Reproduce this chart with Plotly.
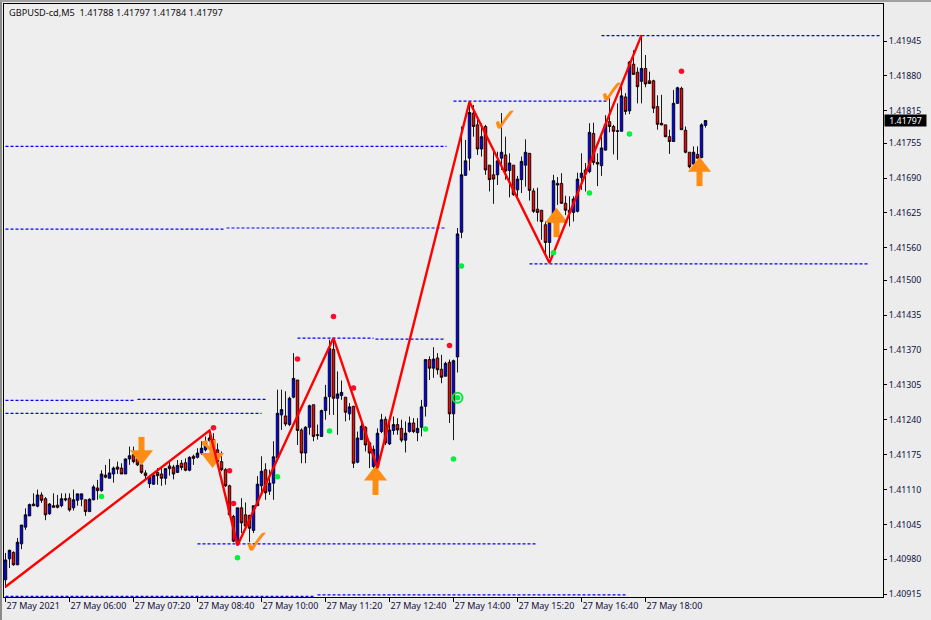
import plotly.graph_objects as go

# Prices are stored as points above 1.40000 (1 point = 0.00001)
BASE = 1.40
POINT = 1e-5

opens_pts = [
 942,981,993,970,1009,1040,1061,1083,1079,1100,1093,1065,1080,1081,1080,1093,
 1094,1076,1090,1092,1091,1069,1091,1113,1108,1137,1131,1139,1152,1150,1139,1167,
 1175,1167,1156,1141,1121,1120,1142,1139,1131,1154,1152,1142,1159,1160,1146,1172,
 1170,1178,1184,1201,1203,1184,1162,1147,1117,1060,1011,1076,1063,1062,1034,1080,
 1117,1147,1107,1122,1169,1249,1247,1231,1282,1314,1221,1178,1226,1268,1212,1209,
 1257,1283,1371,1280,1285,1282,1251,1265,1161,1203,1226,1197,1153,1153,1218,1241,
 1195,1220,1231,1224,1202,1218,1234,1216,1226,1265,1352,1336,1355,1334,1321,1347,
 1251,1357,1589,1695,1727,1811,1789,1744,1786,1714,1696,1696,1727,1733,1704,1714,
 1668,1687,1714,1736,1666,1632,1630,1603,1570,1609,1680,1680,1643,1630,1626,1628,
 1691,1705,1702,1773,1719,1713,1742,1795,1786,1778,1777,1841,1815,1902,1887,1870,
 1894,1871,1871,1823,1792,1789,1767,1758,1829,1857,1779,1738,1716,1734,1728,1788]
closes_pts = [
 979,997,970,1012,1044,1063,1082,1080,1100,1090,1063,1083,1077,1077,1093,1091,
 1072,1091,1102,1102,1069,1092,1115,1108,1139,1133,1141,1150,1148,1139,1167,1173,
 1162,1156,1142,1136,1133,1137,1136,1131,1149,1149,1139,1155,1151,1146,1170,1168,
 1178,1187,1199,1206,1178,1162,1147,1117,1063,1014,1076,1048,1042,1038,1080,1120,
 1144,1104,1122,1171,1252,1259,1232,1280,1317,1220,1178,1226,1266,1209,1211,1257,
 1282,1373,1280,1288,1291,1254,1264,1159,1206,1228,1193,1178,1185,1215,1240,1197,
 1221,1231,1221,1202,1215,1234,1218,1224,1264,1352,1336,1353,1333,1319,1345,1251,
 1350,1586,1696,1722,1812,1786,1744,1767,1705,1687,1688,1722,1738,1703,1718,1659,
 1688,1721,1738,1667,1628,1626,1609,1570,1609,1685,1677,1643,1630,1626,1651,1688,
 1699,1698,1775,1719,1716,1746,1790,1786,1777,1777,1843,1814,1906,1883,1860,1894,
 1865,1866,1820,1790,1789,1767,1758,1829,1858,1780,1738,1711,1738,1727,1789,1797]
highs_pts = [
 992,998,995,1020,1044,1075,1084,1103,1110,1105,1096,1085,1103,1100,1103,1103,
 1103,1110,1102,1102,1091,1094,1119,1128,1146,1156,1167,1153,1162,1159,1168,1190,
 1190,1172,1159,1146,1137,1139,1150,1150,1150,1162,1156,1165,1165,1168,1172,1175,
 1187,1200,1209,1212,1215,1196,1181,1150,1119,1063,1076,1094,1086,1063,1080,1135,
 1172,1159,1147,1200,1296,1296,1293,1283,1364,1314,1224,1228,1268,1268,1231,1259,
 1305,1389,1389,1330,1313,1282,1271,1266,1218,1239,1228,1200,1192,1224,1251,1246,
 1243,1246,1243,1240,1237,1246,1243,1243,1277,1352,1358,1375,1364,1361,1348,1352,
 1352,1597,1786,1761,1832,1826,1798,1792,1789,1714,1745,1739,1811,1767,1736,1714,
 1694,1730,1762,1736,1671,1672,1630,1609,1612,1696,1692,1699,1657,1656,1656,1700,
 1736,1718,1792,1793,1736,1767,1807,1840,1789,1829,1860,1848,1908,1928,1896,1956,
 1919,1888,1873,1844,1845,1789,1780,1854,1860,1860,1786,1738,1749,1749,1792,1797]
lows_pts = [
 927,964,968,969,999,1035,1061,1079,1077,1085,1053,1063,1077,1075,1077,1088,
 1069,1071,1080,1079,1061,1069,1090,1091,1106,1131,1131,1123,1139,1139,1139,1156,
 1159,1154,1139,1128,1113,1119,1119,1117,1119,1136,1129,1141,1146,1144,1144,1156,
 1168,1175,1181,1199,1172,1156,1144,1115,1061,1012,1007,1029,1040,1012,1029,1080,
 1102,1091,1100,1091,1169,1221,1228,1228,1280,1193,1159,1159,1212,1200,1203,1208,
 1240,1249,1249,1212,1277,1237,1239,1150,1159,1203,1181,1150,1150,1150,1215,1193,
 1193,1212,1212,1198,1179,1216,1215,1200,1209,1246,1314,1318,1324,1308,1321,1234,
 1202,1328,1578,1694,1704,1767,1733,1730,1696,1665,1642,1677,1705,1687,1654,1657,
 1649,1662,1674,1648,1625,1609,1575,1547,1541,1606,1640,1642,1621,1600,1609,1626,
 1668,1665,1699,1714,1675,1694,1741,1775,1734,1724,1777,1808,1809,1882,1829,1829,
 1859,1865,1811,1780,1788,1766,1735,1757,1828,1780,1736,1708,1715,1726,1727,1784]

# Zigzag: (bar index, points)
zig_bars = [0, 51, 58, 82, 93, 116, 136, 159]
zig_pts = [929, 1220, 1006, 1392, 1150, 1832, 1532, 1956]

# Horizontal levels: (first bar, last bar, points)
levels = [
 (0, 110.25, 1749), (0, 55, 1595), (55.25, 110, 1597), (0, 32.5, 1276), (33, 65, 1278),
 (0, 64, 1252), (73, 92, 1392), (92.5, 109.5, 1390), (112, 150.5, 1833), (149, 219, 1955),
 (131, 216, 1530), (48, 133, 1009), (0, 77.5, 911), (78, 155, 914),
]

red_bars = [52, 56, 57, 73, 82, 87, 111, 169]
red_pts = [1225, 1145, 1084, 1353, 1432, 1299, 1378, 1889]
green_bars = [24, 58, 68, 81, 105, 112, 113, 114, 137, 146, 156]
green_pts = [1097, 983, 1134, 1219, 1223, 1167, 1281, 1526, 1551, 1662, 1772]
ring_bars = [113]
ring_pts = [1281]

# Arrows: bar index, head centre and tail price (points)
down_arrow_bars = [34, 51.75]
down_arrow_heads = [1174, 1169]
down_arrow_tails = [1208, 1203]
up_arrow_bars = [92.5, 137.75, 173.5]
up_arrow_heads = [1136, 1616, 1711]
up_arrow_tails = [1100, 1580, 1675]
check_bars = [63, 125, 151.75]
check_pts = [1013, 1798, 1850]
turned_check_bars = [50.5]
turned_check_pts = [1190]

time_ticks = [0, 16, 32, 48, 64, 80, 96, 112, 128, 144, 160]
time_labels = ["27 May 2021", "27 May 06:00", "27 May 07:20", "27 May 08:40", "27 May 10:00",
               "27 May 11:20", "27 May 12:40", "27 May 14:00", "27 May 15:20", "27 May 16:40",
               "27 May 18:00"]
price_labels = ["1.41945", "1.41880", "1.41815", "1.41755", "1.41690", "1.41625", "1.41560",
                "1.41500", "1.41435", "1.41370", "1.41305", "1.41240", "1.41175", "1.41110",
                "1.41045", "1.40980", "1.40915"]

TITLE = "GBPUSD-cd,M5\u00a0\u00a01.41788 1.41797 1.41784 1.41797"
LAST_PRICE = "1.41797"


def price(values):
    return [round(BASE + v * POINT, 5) for v in values]


FONT = "Noto Sans"
ORANGE = "#ff8c14"
bars = list(range(len(opens_pts)))

fig = go.Figure()
fig.add_trace(go.Candlestick(
    x=bars, open=price(opens_pts), high=price(highs_pts), low=price(lows_pts), close=price(closes_pts),
    increasing=dict(line=dict(color="black", width=0.9), fillcolor="#0000ff"),
    decreasing=dict(line=dict(color="black", width=0.9), fillcolor="#ff0000"),
    whiskerwidth=0, hoverinfo="skip", showlegend=False,
))
for a, b, v in levels:
    fig.add_trace(go.Scatter(x=[a, b], y=price([v, v]), mode="lines", showlegend=False, hoverinfo="skip",
                             line=dict(color="#0000ff", width=1.2, dash="3px,2px")))

# Orange arrows: a thick shaft plus a triangular head
for arrow_bars, heads, tails, symbol in [(down_arrow_bars, down_arrow_heads, down_arrow_tails, "triangle-down"),
                                         (up_arrow_bars, up_arrow_heads, up_arrow_tails, "triangle-up")]:
    for b, head, tail in zip(arrow_bars, heads, tails):
        fig.add_trace(go.Scatter(x=[b, b], y=price([head, tail]), mode="lines",
                                 showlegend=False, hoverinfo="skip", line=dict(color=ORANGE, width=6)))
    fig.add_trace(go.Scatter(x=arrow_bars, y=price(heads), mode="markers", showlegend=False, hoverinfo="skip",
                             marker=dict(symbol=symbol, size=20, color=ORANGE, line=dict(width=0))))

fig.add_trace(go.Scatter(x=zig_bars, y=price(zig_pts), mode="lines", showlegend=False, hoverinfo="skip",
                         line=dict(color="#ff0000", width=2.4)))
fig.add_trace(go.Scatter(x=red_bars, y=price(red_pts), mode="markers", showlegend=False, hoverinfo="skip",
                         marker=dict(color="#ff0a28", size=5.5)))
fig.add_trace(go.Scatter(x=green_bars, y=price(green_pts), mode="markers", showlegend=False, hoverinfo="skip",
                         marker=dict(color="#00f03c", size=5.5)))
fig.add_trace(go.Scatter(x=ring_bars, y=price(ring_pts), mode="markers", showlegend=False, hoverinfo="skip",
                         marker=dict(color="rgba(0,0,0,0)", size=10, line=dict(color="#00e83c", width=2))))

annotations = []
for b, v in zip(check_bars, check_pts):
    annotations.append(dict(x=b, y=round(BASE + v * POINT, 5), xref="x", yref="y", text="\u2713", showarrow=False,
                            font=dict(family="DejaVu Sans", size=34, color=ORANGE)))
for b, v in zip(turned_check_bars, turned_check_pts):
    annotations.append(dict(x=b, y=round(BASE + v * POINT, 5), xref="x", yref="y", text="\u2714", showarrow=False,
                            textangle=90, font=dict(family="DejaVu Sans", size=20, color=ORANGE)))
annotations.append(dict(x=0, y=1, xref="paper", yref="paper", xanchor="left", yanchor="middle",
                        xshift=3, yshift=-8, text=TITLE, showarrow=False,
                        font=dict(family=FONT, size=9.2, color="#101010")))
annotations.append(dict(x=1, y=float(LAST_PRICE), xref="paper", yref="y", xanchor="left", yanchor="middle",
                        xshift=1, text=LAST_PRICE, showarrow=False, width=41, height=11, bgcolor="#000000",
                        borderpad=0, font=dict(family=FONT, size=8.8, color="#ffffff")))

fig.update_layout(
    width=931, height=620, margin=dict(l=4, r=48, t=4, b=23, autoexpand=False),
    paper_bgcolor="#ececec", plot_bgcolor="#eeeeee",
    boxgap=0.38, boxgroupgap=0, showlegend=False, annotations=annotations,
    xaxis=dict(type="linear", range=[-0.375, 219.375], rangeslider=dict(visible=False), showgrid=False,
               zeroline=False, showline=True, mirror=True, linecolor="black", linewidth=1, automargin=False,
               ticks="outside", ticklen=4, tickcolor="black", tickwidth=1, tickangle=0,
               tickvals=time_ticks, ticktext=time_labels, ticklabelposition="outside right",
               tickfont=dict(family=FONT, size=9, color="#101040")),
    yaxis=dict(side="right", range=[1.40910, 1.42014], showgrid=False, zeroline=False, showline=True,
               mirror=True, linecolor="black", linewidth=1, ticks="outside", ticklen=3, tickcolor="black",
               automargin=False, tickwidth=1, tickvals=[float(p) for p in price_labels], ticktext=price_labels,
               tickfont=dict(family=FONT, size=8.8, color="#101040")),
    shapes=[
        dict(type="rect", xref="paper", yref="paper", x0=-4 / 879, x1=-2 / 879, y0=-0.04, y1=1.01,
             fillcolor="#8a8a8a", line=dict(width=0), layer="below"),
        dict(type="rect", xref="paper", yref="paper", x0=-4 / 879, x1=1.06, y0=1 + 2 / 593, y1=1 + 4 / 593,
             fillcolor="#a0a0a0", line=dict(width=0), layer="below"),
    ],
)
fig.write_html("out.html", config=dict(displayModeBar=False), post_script="document.body.style.margin='0';")
